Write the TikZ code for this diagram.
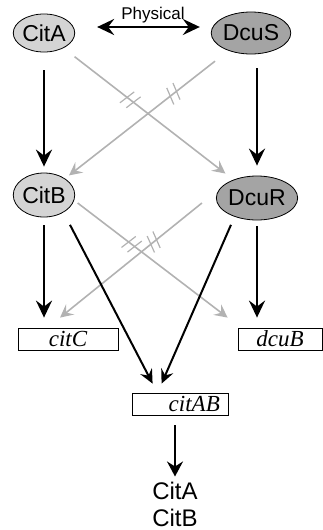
\documentclass[tikz,border=0pt]{standalone}
\usepackage{fontspec}
\setmainfont{Liberation Serif}
\setsansfont{Liberation Sans}
\usetikzlibrary{shapes.geometric,arrows.meta,calc}
\definecolor{lightfill}{HTML}{D4D4D4}
\definecolor{darkfill}{HTML}{A4A4A4}
\definecolor{grayline}{HTML}{B2B2B2}
\tikzset{
  protA/.style={ellipse,draw=black,line width=0.8pt,fill=lightfill,inner sep=0pt,
    minimum width=57pt,minimum height=38pt,font=\sffamily\fontsize{23}{26}\selectfont},
  protB/.style={protA,fill=darkfill},
  genebox/.style={rectangle,draw=black,line width=0.8pt,inner sep=0pt,minimum height=22pt,
    font=\itshape\fontsize{23}{26}\selectfont},
  bigarrow/.style={line width=2.8pt,-{Stealth[length=17pt,width=16pt,inset=6pt]}},
  midarrow/.style={line width=2pt,-{Stealth[length=14pt,width=13pt,inset=5pt]}},
  grayarrow/.style={draw=grayline,line width=1.6pt,-{Stealth[length=13pt,width=13pt,inset=5pt]}},
  tick/.style={draw=grayline,line width=1.2pt}
}
\begin{document}
\begin{tikzpicture}[x=1pt,y=-1pt]
\useasboundingbox (0,0) rectangle (323,530);
% proteins
\node[protA] (citA) at (44,33) {CitA};
\node[protB,minimum height=42pt] (dcuS) at (251,33) {DcuS};
\node[protA,minimum height=44pt] (citB) at (44,195) {CitB};
\node[protB,minimum height=44pt,minimum width=56pt] (dcuR) at (257,198) {DcuR};
% genes
\node[genebox,minimum width=100pt] (citC) at (68,339) {citC};
\node[genebox,minimum width=84pt] (dcuB) at (280,339) {dcuB};
\node[genebox,minimum width=96pt] (citAB) at (180,404) {};
\node[font=\itshape\fontsize{23}{26}\selectfont,anchor=east,inner sep=0pt] (citABtxt) at (220,404) {citAB};
% output
\node[font=\sffamily\fontsize{24}{27}\selectfont,align=center,inner sep=0pt] (out) at (175,504) {CitA\\CitB};
\node[font=\sffamily\fontsize{17}{19}\selectfont,inner sep=0pt] (phys) at (153,15) {Physical};
% physical interaction
\draw[line width=2.6pt,{Stealth[length=17pt,width=16pt,inset=6pt]}-{Stealth[length=17pt,width=16pt,inset=6pt]},
  shorten <=22pt,shorten >=11pt] ([yshift=6pt]citA.east) -- ([yshift=6pt]dcuS.west);
% vertical strong arrows
\draw[bigarrow,shorten <=18pt,shorten >=6pt] (citA.south) -- (citB.north);
\draw[bigarrow,shorten <=14pt,shorten >=10pt] (dcuR.north |- dcuS.south) -- (dcuR.north);
\draw[bigarrow,shorten <=8pt,shorten >=10pt] (citB.south) -- (citB.south |- citC.north);
\draw[bigarrow,shorten <=6pt,shorten >=10pt] (dcuR.south) -- (dcuR.south |- dcuB.north);
% gray cross-talk arrows
\coordinate (g1s) at ([shift={(2.5,8)}]citB.east);
\coordinate (g1e) at ([shift={(-10,-10)}]dcuB.north west);
\coordinate (g2s) at ([shift={(-14,5)}]dcuR.west);
\coordinate (g2e) at ([shift={(-8,-10)}]citC.north);
\draw[grayarrow,shorten <=14pt,shorten >=10pt] (citA) -- (dcuR);
\draw[grayarrow,shorten <=17pt,shorten >=5pt] (dcuS) -- (citB);
\draw[grayarrow] (g1s) -- (g1e);
\draw[grayarrow] (g2s) -- (g2e);
% ticks (double slashes)
\foreach \a/\b/\t in {citA/dcuR/0.39, citA/dcuR/0.42, dcuS/citB/0.36, dcuS/citB/0.39,
                      g1s/g1e/0.34, g1s/g1e/0.38, g2s/g2e/0.32, g2s/g2e/0.36}{
  \coordinate (tp) at ($(\a)!\t!(\b)$);
  \draw[tick] ($(tp)!9pt!75:(\b)$) -- ($(tp)!9pt!-105:(\b)$);
}
% converging arrows to citAB
\draw[midarrow] ([shift={(4,14)}]citB.south east) -- ([shift={(21,-9)}]citAB.north west);
\draw[midarrow] ([shift={(3,11)}]dcuR.south west) -- ([shift={(30,-9)}]citAB.north west);
% output arrow
\draw[line width=2pt,-{Stealth[length=15pt,width=16pt,inset=5pt]},shorten <=10pt,shorten >=5pt]
  (citAB.south -| out.north) -- (out.north);
\end{tikzpicture}
\end{document}
